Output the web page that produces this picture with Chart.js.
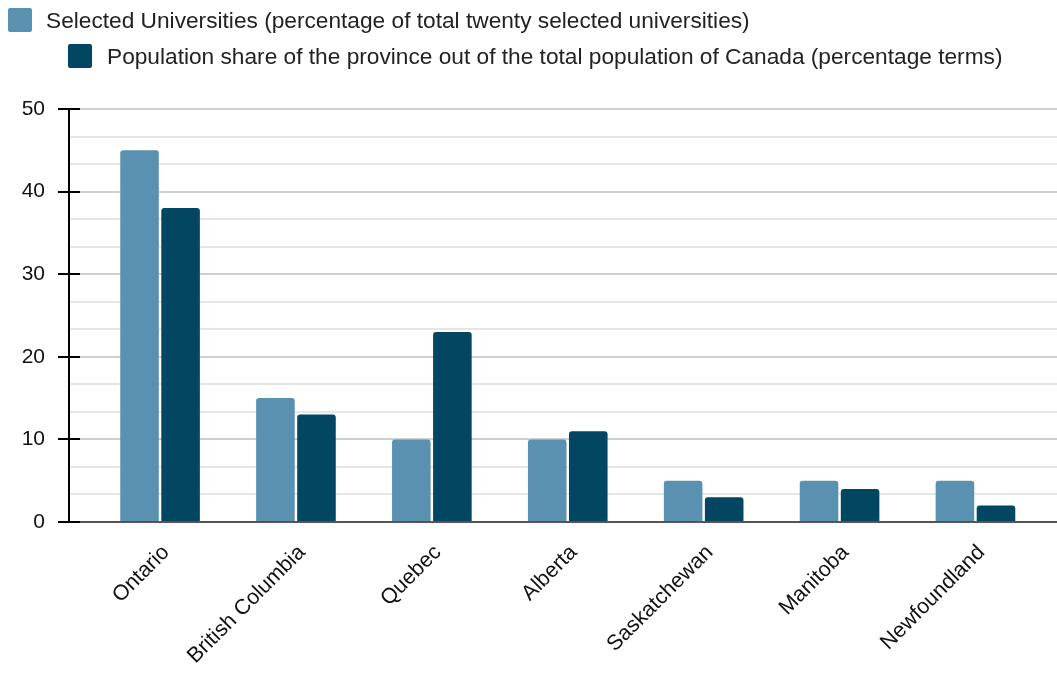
<!DOCTYPE html>
<html>
<head>
<meta charset="utf-8">
<script src="https://cdn.jsdelivr.net/npm/chart.js@4.4.1/dist/chart.umd.min.js"></script>
<style>
  html, body { margin: 0; padding: 0; background: #fff; }
  #wrap { position: relative; width: 1057px; height: 673px; }
  #legend { position: absolute; left: 0; top: 0; font-family: "Liberation Sans", Arial, sans-serif; font-size: 22.7px; color: #222; }
  .item { position: absolute; white-space: nowrap; line-height: 24px; }
  .box { position: absolute; width: 24px; height: 24px; border-radius: 2px; }
</style>
</head>
<body>
<div id="wrap">
  <canvas id="c" width="1057" height="673"></canvas>
  <div id="legend"></div>
</div>
<script>
const categories = ["Ontario", "British Columbia", "Quebec", "Alberta", "Saskatchewan", "Manitoba", "Newfoundland"];
const universitiesShare = [45, 15, 10, 10, 5, 5, 5];
const populationShare = [38, 13, 23, 11, 3, 4, 2];
const seriesLabels = [
  "Selected Universities (percentage of total twenty selected universities)",
  "Population share of the province out of the total population of Canada (percentage terms)"
];
const yTickValues = [0, 10, 20, 30, 40, 50];
const colors = ["#5a91b0", "#024662"];

// HTML legend
const legend = document.getElementById('legend');
const legendPos = [{bx: 8, by: 8, tx: 46}, {bx: 68, by: 44, tx: 107}];
seriesLabels.forEach((lab, i) => {
  const p = legendPos[i];
  const b = document.createElement('div');
  b.className = 'box';
  b.style.left = p.bx + 'px'; b.style.top = p.by + 'px'; b.style.background = colors[i];
  legend.appendChild(b);
  const t = document.createElement('div');
  t.className = 'item';
  t.style.left = p.tx + 'px'; t.style.top = p.by + 'px';
  t.textContent = lab;
  legend.appendChild(t);
});

const toPoints = arr => arr.map((v, i) => ({x: i, y: v}));

const innerTicks = {
  id: 'innerTicks',
  afterDraw(chart) {
    const y = chart.scales.y;
    const ctx = chart.ctx;
    ctx.save();
    ctx.strokeStyle = '#000';
    ctx.lineWidth = 2;
    yTickValues.forEach(v => {
      const py = Math.round(y.getPixelForValue(v));
      ctx.beginPath();
      ctx.moveTo(chart.chartArea.left, py);
      ctx.lineTo(chart.chartArea.left + 11, py);
      ctx.stroke();
    });
    ctx.restore();
  }
};

const isMajor = v => Math.abs(v / 10 - Math.round(v / 10)) < 1e-6;

new Chart(document.getElementById('c'), {
  type: 'bar',
  data: {
    datasets: [
      { label: seriesLabels[0], data: toPoints(universitiesShare), backgroundColor: colors[0], borderRadius: 3, borderSkipped: 'start' },
      { label: seriesLabels[1], data: toPoints(populationShare), backgroundColor: colors[1], borderRadius: 3, borderSkipped: 'start' }
    ]
  },
  options: {
    responsive: false,
    animation: false,
    layout: { padding: { top: 109, left: 0, right: 0, bottom: 0 } },
    plugins: { legend: { display: false }, tooltip: { enabled: false } },
    datasets: { bar: { categoryPercentage: 0.604, barPercentage: 0.94 } },
    font: { family: '"Liberation Sans", Arial, sans-serif', size: 20 },
    scales: {
      x: {
        type: 'linear',
        offset: false,
        min: -0.67,
        max: 6.6,
        grid: { display: false },
        border: { display: true, color: '#555', width: 2 },
        afterFit: s => { s.height = 151; },
        ticks: {
          stepSize: 1,
          includeBounds: false,
          autoSkip: false,
          minRotation: 45,
          maxRotation: 45,
          labelOffset: 6,
          padding: 10,
          color: '#111',
          font: { family: '"Liberation Sans", Arial, sans-serif', size: 21.5 },
          callback: v => (Number.isInteger(v) && categories[v] !== undefined) ? categories[v] : ''
        }
      },
      y: {
        min: 0,
        max: 50,
        afterFit: s => { s.width = 69; },
        border: { display: true, color: '#000', width: 2 },
        grid: {
          color: ctx => isMajor(ctx.tick.value) ? '#cfcfcf' : '#e6e6e6',
          lineWidth: 2,
          tickLength: 11,
          tickColor: ctx => isMajor(ctx.tick.value) ? '#000' : 'rgba(0,0,0,0)',
          tickWidth: 2
        },
        ticks: {
          stepSize: 10 / 3,
          autoSkip: false,
          padding: 13,
          color: '#111',
          font: { family: '"Liberation Sans", Arial, sans-serif', size: 21 },
          callback: v => isMajor(v) ? String(Math.round(v)) : ''
        }
      }
    }
  },
  plugins: [innerTicks]
});
</script>
</body>
</html>
